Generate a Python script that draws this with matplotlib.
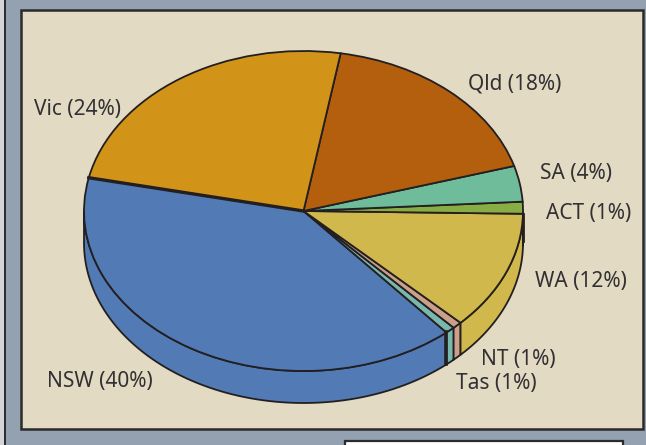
import numpy as np
import matplotlib
matplotlib.use("Agg")
import matplotlib.pyplot as plt
from matplotlib.patches import Rectangle

plt.rcParams['font.family'] = ['Noto Sans', 'DejaVu Sans']

# counter-clockwise from the left edge of NSW
states = ['NSW', 'Tas', 'NT', 'WA', 'ACT', 'SA', 'Qld', 'Vic']
shares = [39.5, 0.7, 0.7, 12, 1.2, 3.6, 17.7, 24.3]
colors = ['#527ab5', '#79b8ac', '#cc9f8a', '#d0b84c', '#88ad45', '#6fbc9a', '#b35f0d', '#d29418']
labels = ['NSW (40%)', 'Tas (1%)', 'NT (1%)', 'WA (12%)', 'ACT (1%)', 'SA (4%)', 'Qld (18%)', 'Vic (24%)']
label_x = [100, 496, 518, 581, 589, 576, 515, 78]
label_y = [382, 383, 359, 282, 214, 174, 84, 109]

W, H = 646, 445
cx, cy, rx, ry = 303.5, 211, 219.5, 160
depth = 32 / ry
start = 168
edge = '#231f20'

fig = plt.figure(figsize=(W / 100, H / 100), dpi=100)
fig.patch.set_facecolor('#94a1b1')

# frame, drawn in pixels
bg = fig.add_axes([0, 0, 1, 1])
bg.set_xlim(0, W)
bg.set_ylim(H, 0)
bg.axis('off')
bg.add_patch(Rectangle((0, 0), 4, H, fc='#d4d4d4', ec='none'))
bg.add_patch(Rectangle((4, 0), 2, H, fc='#2c2c33', ec='none'))
bg.add_patch(Rectangle((20.5, 9.5), 622.5, 419, fc='#e2dac3', ec='#2b2a2c', lw=1.8))
bg.add_patch(Rectangle((345, 441), 278, 10, fc='white', ec='#2b2a2c', lw=1.6))

# unit circle coordinates stretched over the whole figure
ax = fig.add_axes([0, 0, 1, 1], zorder=2)
ax.patch.set_visible(False)
wedges, _ = ax.pie(shares, colors=colors, startangle=start, radius=1,
                   wedgeprops={'edgecolor': edge, 'linewidth': 1.3})
ax.set_aspect('auto')
ax.set_xlim(-cx / rx, (W - cx) / rx)
ax.set_ylim((cy - H) / ry, cy / ry)
ax.axis('off')

# side wall of the lower half
bounds = start + 360 * np.cumsum([0] + shares) / sum(shares)
for a, b, c in zip(bounds[:-1], bounds[1:], colors):
    lo, hi = max(a, 180), min(b, 360)
    if hi <= lo:
        continue
    t = np.radians(np.linspace(lo, hi, 80))
    xs = np.r_[np.cos(t), np.cos(t[::-1])]
    ys = np.r_[np.sin(t), np.sin(t[::-1]) - depth]
    ax.fill(xs, ys, fc=c, ec=edge, lw=1.3, joinstyle='round', zorder=0)

# heavier rules seen on the original
t = np.radians(bounds[0])
ax.plot([0, np.cos(t)], [0, np.sin(t)], color=edge, lw=2.4, zorder=5)
t = np.radians(bounds[1])
ax.plot([np.cos(t)] * 2, [np.sin(t), np.sin(t) - depth], color=edge, lw=2.6, zorder=5)
t = np.radians(bounds[4])
ax.plot([1, 1], [np.sin(t), -depth * 0.95], color=edge, lw=2.0, zorder=5)

for name, x, y in zip(labels, label_x, label_y):
    bg.text(x, y, name, ha='center', va='center', fontsize=15, color='#333033')

fig.savefig('out.png', dpi=100, facecolor=fig.get_facecolor())
